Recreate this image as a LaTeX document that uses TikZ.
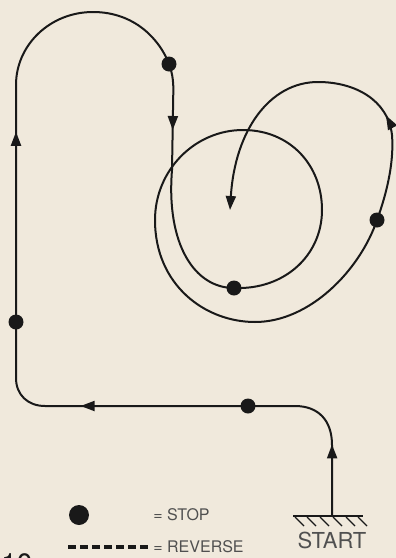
\documentclass[tikz,border=0pt]{standalone}
\usepackage{fontspec}
\setmainfont{TeX Gyre Heros}
\usetikzlibrary{arrows.meta, decorations.markings}
\definecolor{paper}{RGB}{240,233,220}
\definecolor{ink}{RGB}{25,25,25}
\definecolor{labelgray}{RGB}{80,80,80}

\begin{document}
\begin{tikzpicture}[x=0.5pt, y=-0.5pt,
  track/.style={draw=ink, line width=1pt},
  stopdot/.style={circle, fill=ink, inner sep=0pt, minimum size=7.5pt},
  midarrow/.style={postaction={decorate, decoration={markings, mark=at position #1 with {\arrow{Triangle[length=7pt, width=5pt]}}}}},
  legendtext/.style={font=\fontsize{8}{9}\selectfont, text=labelgray, anchor=west, inner sep=0pt}
]

% Paper
\fill[paper] (0,0) rectangle (396,558);
\useasboundingbox (0,0) rectangle (396,558);

% Stops
\node[stopdot] (stopA) at (16,322) {};
\node[stopdot] (stopB) at (169,64) {};
\node[stopdot] (stopC) at (234,288) {};
\node[stopdot] (stopD) at (377,220) {};
\node[stopdot] (stopE) at (248,406) {};
\coordinate (origin) at (332,516);
\coordinate (finish) at (230,210);

% Route
\draw[track, midarrow=0.4] (origin) -- (332,445) .. controls (332,420) and (318,406) .. (295,406) -- (stopE.center);
\draw[track, midarrow=0.55] (stopE.center) -- (45,406) .. controls (28,406) and (16,395) .. (16,378) -- (stopA.center);
\draw[track, midarrow=0.42] (stopA.center) -- (16,85) .. controls (16,45) and (50,12) .. (93,12)
  .. controls (135,12) and (160,40) .. (stopB.center);
\draw[track, midarrow=0.26] (stopB.center) .. controls (175,80) and (173,90) .. (173,110) -- (172,170)
  .. controls (166,245) and (195,288) .. (stopC.center);
\draw[track] (stopC.center) .. controls (285,290) and (322,255) .. (322,210)
  .. controls (322,165) and (290,130) .. (243,130)
  .. controls (195,130) and (155,170) .. (155,220)
  .. controls (155,285) and (205,322) .. (255,322)
  .. controls (310,322) and (360,270) .. (stopD.center);
\draw[track, midarrow=0.3, -{Triangle[length=7pt, width=5pt]}] (stopD.center) .. controls (388,190) and (394,160) .. (392,135)
  .. controls (388,100) and (355,82) .. (318,82)
  .. controls (270,82) and (235,130) .. (finish);

% Ground
\draw[track] (293,516) -- (363,516);
\foreach \x in {295,307,320,333,346,358}
  \draw[ink, line width=0.6pt] (\x,517) -- (\x+9,526);
\node[font=\fontsize{11}{13}\selectfont, text=labelgray, inner sep=0pt] (start) at (332,540) {START};

% Legend
\node[stopdot, minimum size=10pt] (keydot) at (79,515) {};
\node[legendtext] (keystop) at (153,515) {= STOP};
\draw[ink, line width=2pt, dash pattern=on 4pt off 2pt] (68,547) -- (148,547);
\node[legendtext] (keyrev) at (153,547) {= REVERSE};

% Figure number
\node[anchor=north west, inner sep=0pt, font=\fontsize{14}{16}\selectfont, text=ink] (fignum) at (1,553) {10};

\end{tikzpicture}
\end{document}
